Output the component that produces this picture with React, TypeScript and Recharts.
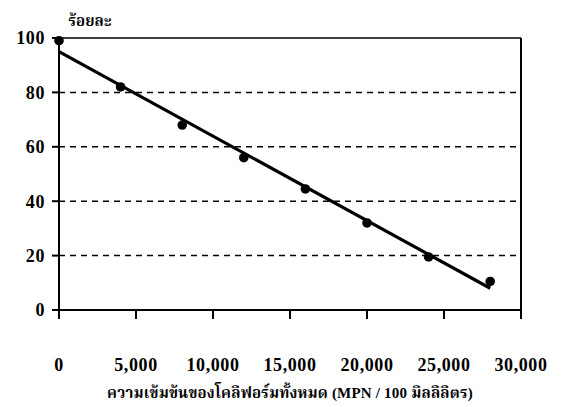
import { ComposedChart, Line, XAxis, YAxis, ReferenceLine } from 'recharts';

// measured points (x = MPN / 100 ml, y = percent)
const concentrations = [0, 4000, 8000, 12000, 16000, 20000, 24000, 28000];
const percents = [99, 82, 68, 56, 44.5, 32, 19.5, 10.5];

// fitted trend line end points
const trendX = [0, 28000];
const trendY = [95, 8];

const xTicks = [0, 5000, 10000, 15000, 20000, 25000, 30000];
const yTicks = [0, 20, 40, 60, 80, 100];
const dashedGrid = [20, 40, 60, 80];

const yTitle = 'ร้อยละ';
const xTitle = 'ความเข้มข้นของโคลิฟอร์มทั้งหมด (MPN / 100 มิลลิลิตร)';

const FONT = "'Liberation Serif', 'Times New Roman', 'Noto Serif Thai', 'Noto Sans Thai', serif";

const points = concentrations.map((x, i) => ({ x, y: percents[i] }));
const trend = trendX.map((x, i) => ({ x, y: trendY[i] }));

const XTick = ({ x, y, payload }: any) => (
  <text
    x={x}
    y={y + 50}
    textAnchor="middle"
    fontFamily={FONT}
    fontWeight="bold"
    fontSize={18}
    letterSpacing={0.6}
    fill="#000"
  >
    {payload.value.toLocaleString('en-US')}
  </text>
);

const YTitle = ({ viewBox }: any) => (
  <text
    x={(viewBox?.x ?? 0) + 90}
    y={(viewBox?.y ?? 38) - 12}
    textAnchor="middle"
    fontFamily={FONT}
    fontWeight="bold"
    fontSize={15}
    fill="#000"
  >
    {yTitle}
  </text>
);

const App = () => {
  return (
    <div style={{ position: 'absolute', left: 0, top: 0, background: '#fff' }}>
      <ComposedChart
        width={562}
        height={407}
        margin={{ top: 38, right: 41, bottom: 0, left: 0 }}
      >
        <XAxis
          dataKey="x"
          type="number"
          domain={[0, 30000]}
          ticks={xTicks}
          interval={0}
          height={97}
          stroke="#000"
          strokeWidth={2}
          tickSize={9}
          tick={<XTick />}
          label={{
            value: xTitle,
            position: 'insideBottom',
            offset: 9,
            fill: '#000',
            fontFamily: FONT,
            fontWeight: 'bold',
            fontSize: 15,
            letterSpacing: 0.2,
          }}
        />
        <YAxis
          dataKey="y"
          type="number"
          domain={[0, 100]}
          ticks={yTicks}
          interval={0}
          width={59}
          stroke="#000"
          strokeWidth={2}
          tickSize={7}
          tickMargin={7}
          tick={{ fill: '#000', fontFamily: FONT, fontWeight: 'bold', fontSize: 18, letterSpacing: 0.6 }}
          label={{ content: <YTitle /> }}
        />
        {dashedGrid.map((v) => (
          <ReferenceLine key={v} y={v} stroke="#000" strokeWidth={1.5} strokeDasharray="6 5" />
        ))}
        <ReferenceLine y={100} stroke="#000" strokeWidth={1.5} />
        <ReferenceLine x={30000} stroke="#000" strokeWidth={2} />
        <Line
          data={trend}
          dataKey="y"
          type="linear"
          stroke="#000"
          strokeWidth={3.2}
          dot={false}
          activeDot={false}
          isAnimationActive={false}
        />
        <Line
          data={points}
          dataKey="y"
          type="linear"
          stroke="none"
          strokeWidth={0}
          dot={{ r: 4.8, fill: '#000', stroke: 'none', clipDot: false }}
          activeDot={false}
          isAnimationActive={false}
        />
      </ComposedChart>
    </div>
  );
};

export default App;
